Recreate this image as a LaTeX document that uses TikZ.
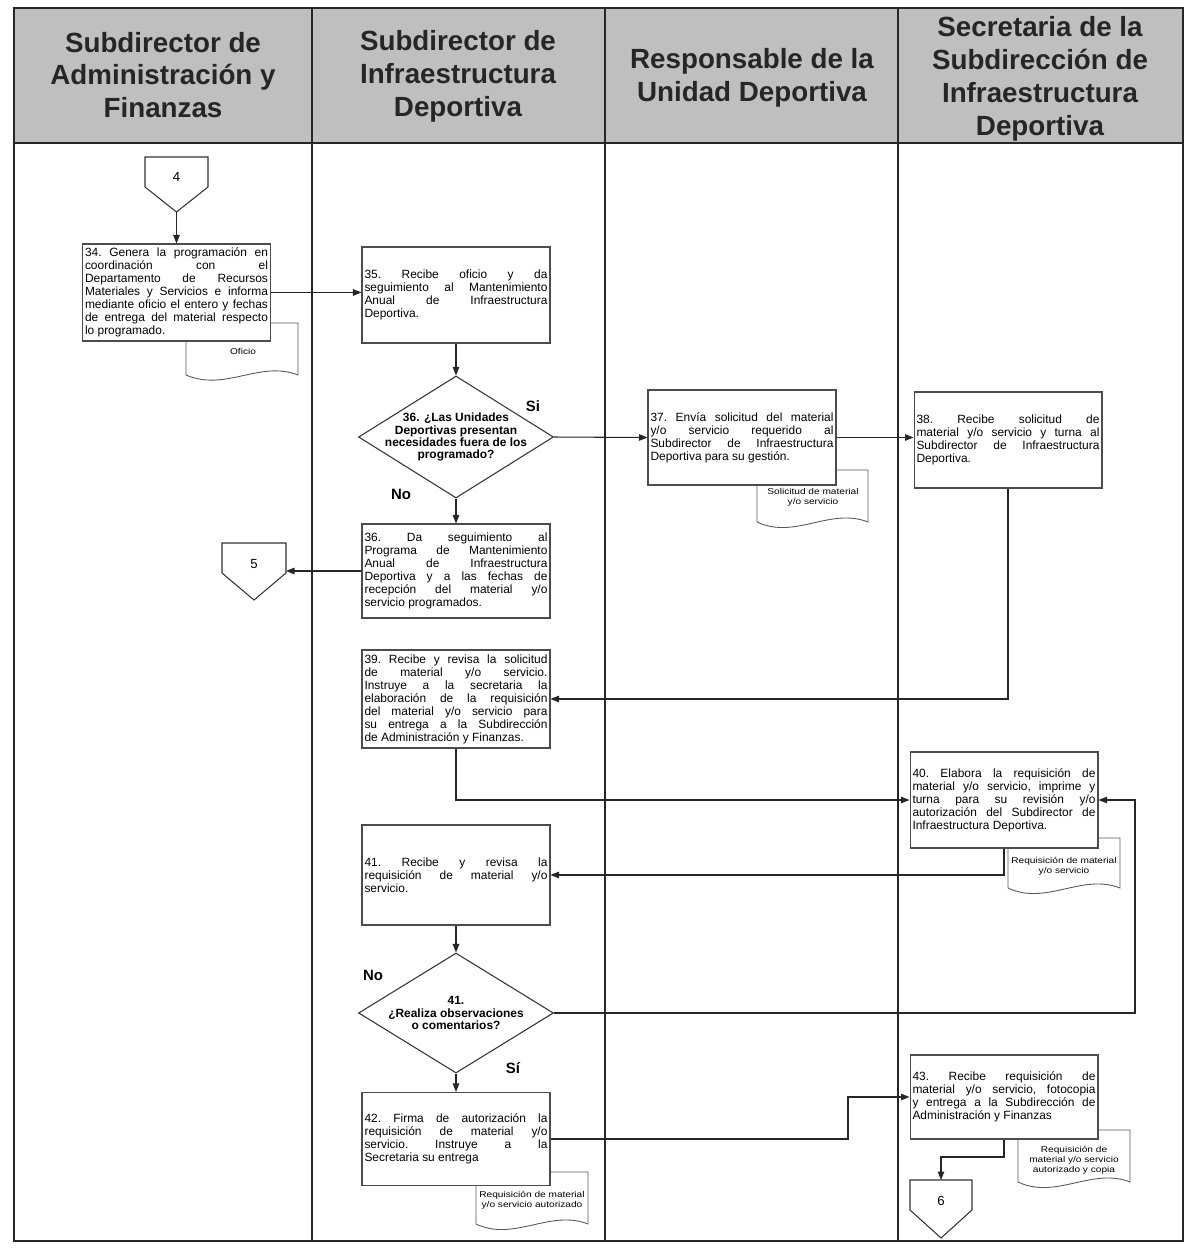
\documentclass[tikz,border=0pt]{standalone}
\usepackage{fontspec}
\setmainfont{Liberation Sans}
\newfontfamily\boxfamily{Liberation Sans}
\newfontfamily\docfamily[FakeStretch=1.2]{Liberation Sans}
\usetikzlibrary{arrows.meta,shapes.geometric}

\tikzset{
  lane/.style={draw=black!85, line width=0.8pt},
  proc/.style={draw=black!70, fill=white, line width=0.6pt, minimum width=3.76cm,
    minimum height=#1*0.02cm, text width=3.66cm, inner sep=0.05cm, align=justify,
    font=\boxfamily\fontsize{6.8}{7.4}\selectfont,
    execute at begin node={\frenchspacing\tolerance=10000\relax\hyphenpenalty=10000\relax}},
  proc/.default=96,
  decision/.style={diamond, draw=black!80, fill=white, line width=0.6pt,
    minimum width=3.9cm, minimum height=#1*0.02cm, inner sep=0pt},
  decision/.default=122,
  dtext/.style={align=center, inner sep=0pt, font=\boxfamily\bfseries\fontsize{6.8}{6.9}\selectfont},
  doc/.style={draw=black!65, fill=white, line width=0.5pt},
  doctext/.style={align=center, inner sep=0pt, font=\docfamily\fontsize{4.8}{5.8}\selectfont},
  offpage/.style={draw=black!80, fill=white, line width=0.6pt},
  ctext/.style={font=\fontsize{7.5}{9}\selectfont},
  flow/.style={-{Triangle[length=1.7mm,width=1.3mm]}, draw=black!85, line width=0.6pt},
  yesno/.style={font=\bfseries\fontsize{8.5}{9}\selectfont},
  head/.style={align=center, text=black!85, font=\bfseries\fontsize{15.8}{18.7}\selectfont},
}

\begin{document}
\begin{tikzpicture}[x=0.02cm, y=-0.02cm]
\useasboundingbox (0,0) rectangle (1187,1251);

% lanes and header
\fill[black!25] (14,8) rectangle (1183,143);
\draw[lane] (14,8) rectangle (1183,1241);
\draw[lane] (14,143) -- (1183,143);
\draw[lane] (312,8) -- (312,1241);
\draw[lane] (605,8) -- (605,1241);
\draw[lane] (898,8) -- (898,1241);

\node[head] (h1) at (163,75) {Subdirector de\\Administración y\\Finanzas};
\node[head] (h2) at (458,76) {Subdirector de\\Infraestructura\\Deportiva};
\node[head] (h3) at (752,78) {Responsable de la\\Unidad Deportiva};
\node[head] (h4) at (1040,79) {Secretaria de la\\Subdirección de\\Infraestructura\\Deportiva};

% documents (behind the boxes)
\draw[doc] (186,323) -- (298,323) -- (298,375) .. controls (260,360) and (225,392) .. (186,375) -- cycle;
\node[doctext] (o34) at (243,351) {Oficio};
\draw[doc] (757,470) -- (868,470) -- (868,522) .. controls (830,507) and (795,540) .. (757,522) -- cycle;
\node[doctext] (o37) at (813,497) {Solicitud de material\\y/o servicio};
\draw[doc] (1008,838) -- (1120,838) -- (1120,888) .. controls (1082,873) and (1046,906) .. (1008,888) -- cycle;
\node[doctext] (o40) at (1064,866) {Requisición de material\\y/o servicio};
\draw[doc] (476,1172) -- (588,1172) -- (588,1224) .. controls (550,1209) and (514,1242) .. (476,1224) -- cycle;
\node[doctext] (o42) at (532,1200) {Requisición de material\\y/o servicio autorizado};
\draw[doc] (1018,1130) -- (1130,1130) -- (1130,1182) .. controls (1092,1167) and (1056,1200) .. (1018,1182) -- cycle;
\node[doctext] (o43) at (1074,1160) {Requisición de\\material y/o servicio\\autorizado y copia};

% off-page connectors
\draw[offpage] (145,157) -- (208,157) -- (208,187) -- (176.5,212) -- (145,187) -- cycle;
\node[ctext] (c4) at (176.5,177) {4};
\coordinate (c4b) at (176.5,212);
\draw[offpage] (222,543) -- (286,543) -- (286,573) -- (254,600) -- (222,573) -- cycle;
\node[ctext] (c5) at (254,564) {5};
\coordinate (c5e) at (286,571);
\draw[offpage] (910,1180) -- (972,1180) -- (972,1210) -- (941,1238) -- (910,1210) -- cycle;
\node[ctext] (c6) at (941,1201) {6};
\coordinate (c6t) at (941,1180);

% activities
\node[proc=97] (p34) at (176.5,292.5) {34. Genera la programación en\linebreak coordinación con el\linebreak Departamento de Recursos\linebreak Materiales y Servicios e informa\linebreak mediante oficio el entero y fechas\linebreak de entrega del material respecto\linebreak lo programado.};
\node[proc] (p35) at (456,295) {35. Recibe oficio y da\linebreak seguimiento al Mantenimiento\linebreak Anual de Infraestructura\linebreak Deportiva.};
\node[decision] (d36) at (456,437) {};
\node[dtext] (t36) at (d36) {36. ¿Las Unidades\\Deportivas presentan\\necesidades fuera de los\\programado?};
\node[proc=95] (p37) at (742,437.5) {37. Envía solicitud del material\linebreak y/o servicio requerido al\linebreak Subdirector de Infraestructura\linebreak Deportiva para su gestión.};
\node[proc] (p38) at (1008,440) {38. Recibe solicitud de\linebreak material y/o servicio y turna al\linebreak Subdirector de Infraestructura\linebreak Deportiva.};
\node[proc=94] (p36) at (456,571) {36. Da seguimiento al\linebreak Programa de Mantenimiento\linebreak Anual de Infraestructura\linebreak Deportiva y a las fechas de\linebreak recepción del material y/o\linebreak servicio programados.};
\node[proc=98] (p39) at (456,699) {39. Recibe y revisa la solicitud\linebreak de material y/o servicio.\linebreak Instruye a la secretaria la\linebreak elaboración de la requisición\linebreak del material y/o servicio para\linebreak su entrega a la Subdirección\linebreak de Administración y Finanzas.};
\node[proc] (p40) at (1004,800) {40. Elabora la requisición de\linebreak material y/o servicio, imprime y\linebreak turna para su revisión y/o\linebreak autorización del Subdirector de\linebreak Infraestructura Deportiva.};
\node[proc=100] (p41) at (456,875) {41. Recibe y revisa la\linebreak requisición de material y/o\linebreak servicio.};
\node[decision=120] (d41) at (456,1013) {};
\node[dtext] (t41) at (d41) {41.\\¿Realiza observaciones\\o comentarios?};
\node[proc=93] (p42) at (456,1139) {42. Firma de autorización la\linebreak requisición de material y/o\linebreak servicio. Instruye a la\linebreak Secretaria su entrega};
\node[proc=84] (p43) at (1004,1097) {43. Recibe requisición de\linebreak material y/o servicio, fotocopia\linebreak y entrega a la Subdirección de\linebreak Administración y Finanzas};

% answers
\node[yesno] (si36) at (533,406) {Si};
\node[yesno] (no36) at (401,494) {No};
\node[yesno] (no41) at (373,975) {No};
\node[yesno] (si41) at (513,1068) {Sí};

% bends
\coordinate (r41) at (1135,1013);
\coordinate (j42) at (848,1097);
\coordinate (j43) at (1004,1157);

% flow
\draw[flow] (c4b) -- (p34.north);
\draw[flow] (p34.east) -- (p34.east -| p35.west);
\draw[flow] (p35.south) -- (d36.north);
\draw[flow] (d36.east) -- (p37.west);
\draw[flow] (p37.east) -- (p37.east -| p38.west);
\draw[flow] (d36.south) -- (p36.north);
\draw[flow] (p36.west) -- (c5e);
\draw[flow] (p38.south) |- (p39.east);
\draw[flow] (p39.south) |- (p40.west);
\draw[flow] (p40.south) |- (p41.east);
\draw[flow] (p41.south) -- (d41.north);
\draw[flow] (d41.east) -- (r41) |- (p40.east);
\draw[flow] (d41.south) -- (p42.north);
\draw[flow] (p42.east) -| (j42) -- (p43.west);
\draw[flow] (p43.south) -- (j43) -| (c6t);
\end{tikzpicture}
\end{document}
